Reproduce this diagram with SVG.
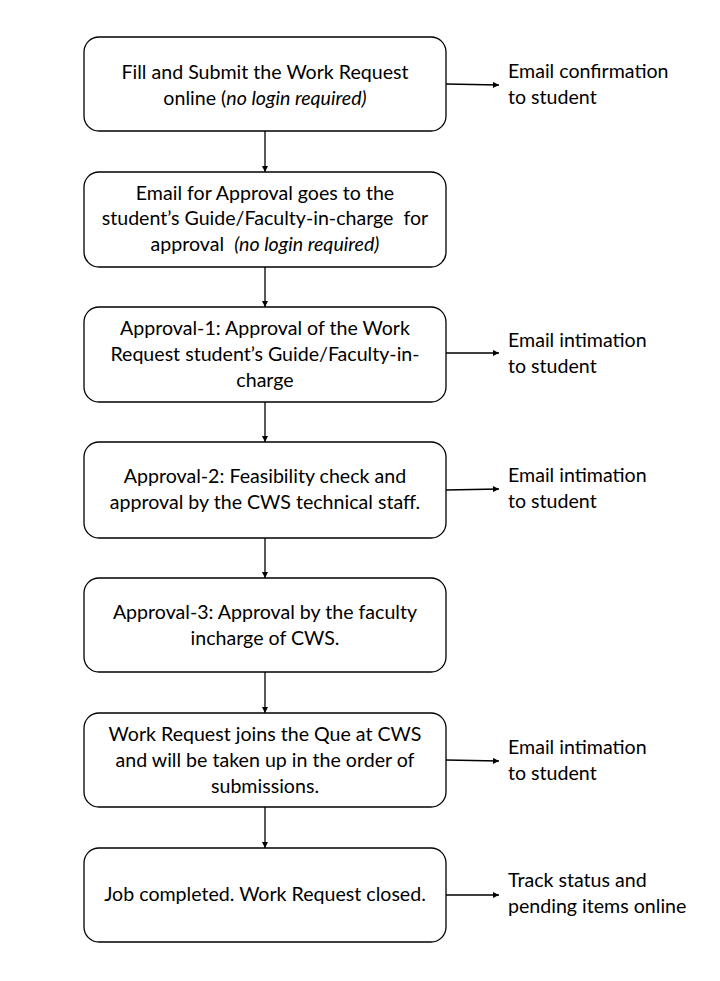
<svg xmlns="http://www.w3.org/2000/svg" width="720" height="981" viewBox="0 0 720 981">
<style>
.box{fill:#fff;stroke:#000;stroke-width:1.3}
.t{font-family:Lato,"Open Sans","Liberation Sans",sans-serif;font-size:19.6px;fill:#000}
.c{text-anchor:middle}
.i{font-style:italic}
.pre{white-space:pre}
.ln{stroke:#000;stroke-width:1.3;fill:none;marker-end:url(#ah)}
</style>
<defs>
<marker id="ah" viewBox="0 0 10 10" refX="10" refY="5" markerWidth="7" markerHeight="6" markerUnits="userSpaceOnUse" orient="auto">
<path d="M0,0 L10,5 L0,10 z" fill="#000"/>
</marker>
</defs>
<rect width="720" height="981" fill="#fff"/>
<g id="connectors">
<line class="ln" x1="265" y1="131" x2="265" y2="172"/>
<line class="ln" x1="265" y1="267" x2="265" y2="307"/>
<line class="ln" x1="265" y1="402" x2="265" y2="442"/>
<line class="ln" x1="265" y1="538" x2="265" y2="578"/>
<line class="ln" x1="265" y1="672" x2="265" y2="713"/>
<line class="ln" x1="265" y1="807" x2="265" y2="848"/>
<line class="ln" x1="446" y1="84" x2="499" y2="85"/>
<line class="ln" x1="446" y1="353" x2="499" y2="353"/>
<line class="ln" x1="446" y1="490" x2="499" y2="489"/>
<line class="ln" x1="446" y1="760" x2="499" y2="761"/>
<line class="ln" x1="446" y1="895" x2="499" y2="895"/>
</g>
<g id="n1">
<rect class="box" x="84" y="37" width="362" height="94" rx="15"/>
<text class="t c" x="265" y="79">Fill and Submit the Work Request</text>
<text class="t c" x="265" y="105">online (<tspan class="i">no login required)</tspan></text>
</g>
<g id="n2">
<rect class="box" x="84" y="172" width="362" height="95" rx="15"/>
<text class="t c" x="265" y="200">Email for Approval goes to the</text>
<text class="t c pre" x="265" y="225">student’s Guide/Faculty-in-charge  for</text>
<text class="t c pre" x="265" y="251">approval  <tspan class="i">(no login required)</tspan></text>
</g>
<g id="n3">
<rect class="box" x="84" y="307" width="362" height="95" rx="15"/>
<text class="t c" x="265" y="335">Approval-1: Approval of the Work</text>
<text class="t c" x="265" y="361">Request student’s Guide/Faculty-in-</text>
<text class="t c" x="265" y="387">charge</text>
</g>
<g id="n4">
<rect class="box" x="84" y="442" width="362" height="96" rx="15"/>
<text class="t c" x="265" y="483">Approval-2: Feasibility check and</text>
<text class="t c" x="265" y="509">approval by the CWS technical staff.</text>
</g>
<g id="n5">
<rect class="box" x="84" y="578" width="362" height="94" rx="15"/>
<text class="t c" x="265" y="619">Approval-3: Approval by the faculty</text>
<text class="t c" x="265" y="645">incharge of CWS.</text>
</g>
<g id="n6">
<rect class="box" x="84" y="713" width="362" height="94" rx="15"/>
<text class="t c" x="265" y="741">Work Request joins the Que at CWS</text>
<text class="t c" x="265" y="767">and will be taken up in the order of</text>
<text class="t c" x="265" y="793">submissions.</text>
</g>
<g id="n7">
<rect class="box" x="84" y="848" width="362" height="94" rx="15"/>
<text class="t c" x="265" y="901">Job completed. Work Request closed.</text>
</g>
<g id="side-labels">
<text class="t" x="508" y="78">Email confirmation</text>
<text class="t" x="508" y="104">to student</text>
<text class="t" x="508" y="347">Email intimation</text>
<text class="t" x="508" y="373">to student</text>
<text class="t" x="508" y="482">Email intimation</text>
<text class="t" x="508" y="508">to student</text>
<text class="t" x="508" y="754">Email intimation</text>
<text class="t" x="508" y="780">to student</text>
<text class="t" x="508" y="887">Track status and</text>
<text class="t" x="508" y="913">pending items online</text>
</g>
</svg>
